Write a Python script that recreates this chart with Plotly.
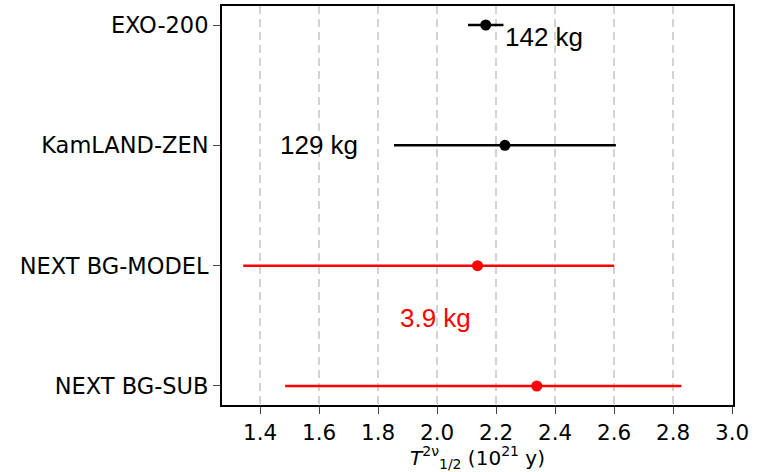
import plotly.graph_objects as go

experiments = ["EXO-200", "KamLAND-ZEN", "NEXT BG-MODEL", "NEXT BG-SUB"]
positions = [0, 1, 2, 3]
half_life = [2.165, 2.23, 2.137, 2.338]
err_minus = [0.06, 0.376, 0.794, 0.853]
err_plus = [0.06, 0.376, 0.463, 0.49]
colors = ["black", "black", "red", "red"]
x_ticks = [1.4, 1.6, 1.8, 2.0, 2.2, 2.4, 2.6, 2.8, 3.0]
mass_labels = ["142 kg", "129 kg", "3.9 kg"]
mass_x = [2.225, 1.461, 1.868]
mass_y = [0.1, 1.0, 2.435]
mass_colors = ["black", "black", "red"]

fig = go.Figure()
for i in range(len(experiments)):
    fig.add_trace(go.Scatter(
        x=[half_life[i]], y=[positions[i]], mode="markers",
        marker=dict(color=colors[i], size=11),
        error_x=dict(type="data", symmetric=False, array=[err_plus[i]],
                     arrayminus=[err_minus[i]], color=colors[i],
                     thickness=2.5, width=0),
        showlegend=False,
    ))

for t, xx, yy, c in zip(mass_labels, mass_x, mass_y, mass_colors):
    fig.add_annotation(x=xx, y=yy, text=t, showarrow=False, xanchor="left",
                       yanchor="middle",
                       font=dict(family="Liberation Sans, Arial", size=26, color=c))

fig.update_layout(
    width=758, height=472,
    margin=dict(l=222, r=25, t=6, b=67),
    plot_bgcolor="white", paper_bgcolor="white",
    font=dict(family="DejaVu Sans", size=22, color="black"),
)
fig.update_xaxes(
    range=[1.271, 3.003], tickvals=x_ticks,
    ticktext=[f"{v:.1f}" for v in x_ticks],
    tickfont=dict(size=21.5), automargin=False,
    showgrid=True, gridcolor="#d3d3d3", gridwidth=2, griddash="8px,5px",
    showline=True, linecolor="black", linewidth=2, mirror=True,
    ticks="outside", ticklen=7, tickcolor="#444", tickwidth=1,
    zeroline=False,
    title=dict(text="<i>T</i><sup>2ν</sup><sub>1/2</sub> (10<sup>21</sup> y)",
               font=dict(size=20), standoff=13),
)
fig.update_yaxes(
    range=[3.158, -0.158], tickvals=positions, ticktext=experiments,
    tickfont=dict(size=22.5), automargin=False,
    showgrid=False, zeroline=False,
    showline=True, linecolor="black", linewidth=2, mirror=True,
    ticks="outside", ticklen=7, tickcolor="#444", tickwidth=1,
)
fig.write_html("out.html")
